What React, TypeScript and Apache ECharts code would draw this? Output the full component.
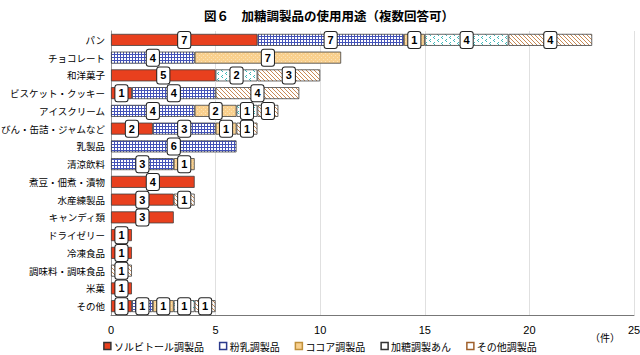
import React, { useEffect, useRef } from "react";
import * as echarts from "echarts";

const categories = [
  "パン",
  "チョコレート",
  "和洋菓子",
  "ビスケット・クッキー",
  "アイスクリーム",
  "びん・缶詰・ジャムなど",
  "乳製品",
  "清涼飲料",
  "煮豆・佃煮・漬物",
  "水産練製品",
  "キャンディ類",
  "ドライゼリー",
  "冷凍食品",
  "調味料・調味食品",
  "米菓",
  "その他",
];
const seriesNames = ["ソルビトール調製品", "粉乳調製品", "ココア調製品", "加糖調製あん", "その他調製品"];
const sorbitol = [7, 0, 5, 1, 0, 2, 0, 0, 4, 3, 3, 1, 1, 0, 1, 1];
const funyu = [7, 4, 0, 4, 4, 3, 6, 3, 0, 0, 0, 0, 0, 0, 0, 1];
const cocoa = [1, 7, 0, 0, 2, 1, 0, 1, 0, 0, 0, 0, 0, 0, 0, 1];
const an = [4, 0, 2, 0, 1, 0, 0, 0, 0, 0, 0, 0, 0, 0, 0, 1];
const others = [4, 0, 3, 4, 1, 1, 0, 0, 0, 1, 0, 0, 0, 1, 0, 1];
const xTicks = [0, 5, 10, 15, 20, 25];

const FONT = '"Noto Sans CJK JP", "Noto Sans", sans-serif';

function makePattern(w: number, h: number, draw: (ctx: CanvasRenderingContext2D) => void) {
  const c = document.createElement("canvas");
  c.width = w;
  c.height = h;
  const ctx = c.getContext("2d")!;
  draw(ctx);
  return { image: c, repeat: "repeat" } as any;
}

export default function App() {
  const ref = useRef<HTMLDivElement>(null);
  useEffect(() => {
    if (!ref.current) return;
    const chart = echarts.init(ref.current, undefined, { renderer: "svg" });

    const red = "#E8401E";
    const gridPat = makePattern(3, 3, (ctx) => {
      ctx.fillStyle = "#ffffff";
      ctx.fillRect(0, 0, 3, 3);
      ctx.fillStyle = "#4453B8";
      ctx.fillRect(0, 0, 3, 1);
      ctx.fillRect(0, 0, 1, 3);
    });
    const cocoaPat = makePattern(4, 4, (ctx) => {
      ctx.fillStyle = "#F9D08E";
      ctx.fillRect(0, 0, 4, 4);
      ctx.fillStyle = "#FCE3B8";
      ctx.fillRect(1, 1, 1, 1);
      ctx.fillRect(3, 3, 1, 1);
    });
    const anPat = makePattern(8, 6, (ctx) => {
      ctx.fillStyle = "#ffffff";
      ctx.fillRect(0, 0, 8, 6);
      ctx.fillStyle = "#3DB8B8";
      ctx.fillRect(2, 0, 1, 1);
      ctx.fillRect(1, 1, 1, 1);
      ctx.fillRect(2, 2, 1, 1);
      ctx.fillRect(6, 3, 1, 1);
      ctx.fillRect(5, 4, 1, 1);
      ctx.fillRect(6, 5, 1, 1);
    });
    const hatchPat = makePattern(4, 4, (ctx) => {
      ctx.fillStyle = "#ffffff";
      ctx.fillRect(0, 0, 4, 4);
      ctx.fillStyle = "#C88A55";
      for (let i = 0; i < 4; i++) ctx.fillRect(i, i, 1, 1);
    });
    const fills = [red, gridPat, cocoaPat, anPat, hatchPat];
    const legendColors = [red, "#ffffff", "#F9D08E", "#ffffff", "#ffffff"];
    const legendBorders = ["#333", "#2B3A8C", "#C0903A", "#333", "#A0602A"];
    const datasets = [sorbitol, funyu, cocoa, an, others];

    const series = datasets.map((d, i) => ({
      name: seriesNames[i],
      type: "bar",
      stack: "total",
      barWidth: 12,
      data: d.map((v) => (v === 0 ? null : v)),
      itemStyle: { color: fills[i], borderColor: "#404040", borderWidth: 0.8 },
      label: {
        show: true,
        position: "inside",
        formatter: "{c}",
        backgroundColor: "#ffffff",
        borderColor: "#222222",
        borderWidth: 1,
        borderRadius: 2,
        padding: [2, 3, 2, 3],
        fontSize: 11,
        lineHeight: 12,
        fontWeight: "bold",
        color: "#000",
        fontFamily: "Arial, Liberation Sans, sans-serif",
      },
      emphasis: { disabled: true },
    }));

    chart.setOption({
      animation: false,
      title: {
        text: "図６　加糖調製品の使用用途（複数回答可）",
        left: 324,
        textAlign: "center",
        top: 4,
        textStyle: { fontSize: 12.5, fontWeight: "bold", color: "#000", fontFamily: FONT },
      },
      grid: { left: 111, right: 6, top: 31, bottom: 40, containLabel: false, outerBoundsMode: "none" },
      legend: {
        top: 341,
        left: "center",
        padding: 0,
        itemWidth: 7,
        itemHeight: 7,
        itemGap: 15,
        icon: "rect",
        textStyle: { fontSize: 10, color: "#000", fontFamily: FONT, padding: [0, 0, 0, -2] },
        data: seriesNames.map((n, i) => ({
          name: n,
          itemStyle: { color: legendColors[i], borderColor: legendBorders[i], borderWidth: 1.5 },
        })),
      },
      xAxis: {
        type: "value",
        min: xTicks[0],
        max: xTicks[xTicks.length - 1],
        interval: 5,
        axisLine: { show: true, lineStyle: { color: "#777", width: 1 } },
        axisTick: { show: false },
        splitLine: { show: true, lineStyle: { color: "#E0E0E0", width: 1 } },
        axisLabel: { fontSize: 11, color: "#000", margin: 9, fontFamily: "Arial, sans-serif" },
      },
      yAxis: {
        type: "category",
        data: categories,
        inverse: true,
        axisLine: { show: true, lineStyle: { color: "#999", width: 1 } },
        axisTick: { show: false },
        axisLabel: { fontSize: 9.5, color: "#000", margin: 6, fontFamily: FONT },
      },
      graphic: [
        {
          type: "text",
          left: 590,
          top: 332,
          style: { text: "（件）", fontSize: 10, fill: "#000", fontFamily: FONT },
        },
      ],
      series,
    });
    return () => chart.dispose();
  }, []);
  return (
    <div
      ref={ref}
      style={{ position: "fixed", left: 0, top: 0, width: 640, height: 355, background: "#fff" }}
    />
  );
}
